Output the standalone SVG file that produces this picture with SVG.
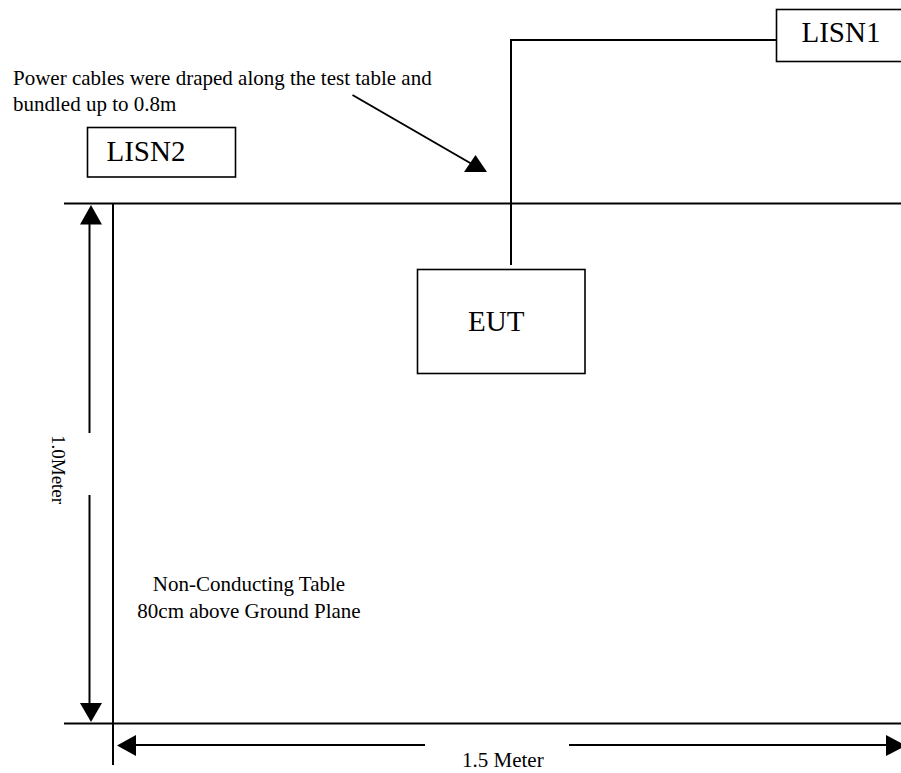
<svg xmlns="http://www.w3.org/2000/svg" width="901" height="773" viewBox="0 0 901 773">
<style>
  text { font-family: "Liberation Serif", "Times New Roman", serif; fill: #000; }
  .box { fill: #fff; stroke: #000; stroke-width: 1.6; }
  .ln { fill: none; stroke: #000; stroke-width: 2; }
  .head { fill: #000; stroke: none; }
  .big { font-size: 29px; }
  .small { font-size: 21px; }
</style>
<rect x="0" y="0" width="901" height="773" fill="#fff"/>

<g id="table">
  <line class="ln" x1="64" y1="203.5" x2="901" y2="203.5"/>
  <line class="ln" x1="64" y1="723.5" x2="901" y2="723.5"/>
  <line class="ln" x1="113" y1="203.5" x2="113" y2="765"/>
  <text class="small" x="249" y="591" text-anchor="middle">Non-Conducting Table</text>
  <text class="small" x="249" y="618" text-anchor="middle">80cm above Ground Plane</text>
</g>

<g id="LISN2">
  <rect class="box" x="87.5" y="127.5" width="148" height="49.5"/>
  <text class="big" x="106.5" y="160.5">LISN2</text>
</g>

<g id="LISN1">
  <rect class="box" x="776.5" y="9.5" width="130" height="52"/>
  <text class="big" x="801.5" y="42">LISN1</text>
</g>

<g id="EUT">
  <rect class="box" x="417.5" y="269.5" width="167.5" height="104"/>
  <text class="big" x="468" y="331">EUT</text>
</g>

<g id="note">
  <text class="small" x="13" y="85">Power cables were draped along the test table and</text>
  <text class="small" x="13" y="111">bundled up to 0.8m</text>
</g>

<g id="connectors">
  <polyline class="ln" points="511,265 511,40 776.5,40"/>
  <line class="ln" x1="352.5" y1="95" x2="471" y2="163.5"/>
  <polygon class="head" points="475.5,155 487,172 464,172"/>

  <line class="ln" x1="89.5" y1="222" x2="89.5" y2="433"/>
  <line class="ln" x1="89.5" y1="495" x2="89.5" y2="705"/>
  <polygon class="head" points="91,205 102,224.5 80,224.5"/>
  <polygon class="head" points="91,722 102,703 80,703"/>
  <text class="small" x="52" y="435" font-size="19" style="font-size:19px" transform="rotate(90 52 435)">1.0Meter</text>

  <line class="ln" x1="134" y1="745" x2="425" y2="745"/>
  <line class="ln" x1="569" y1="745" x2="888" y2="745"/>
  <polygon class="head" points="117,745.5 136,735 136,756"/>
  <polygon class="head" points="906,745.5 886,735 886,756"/>
  <text class="small" x="462" y="767">1.5 Meter</text>
</g>
</svg>
